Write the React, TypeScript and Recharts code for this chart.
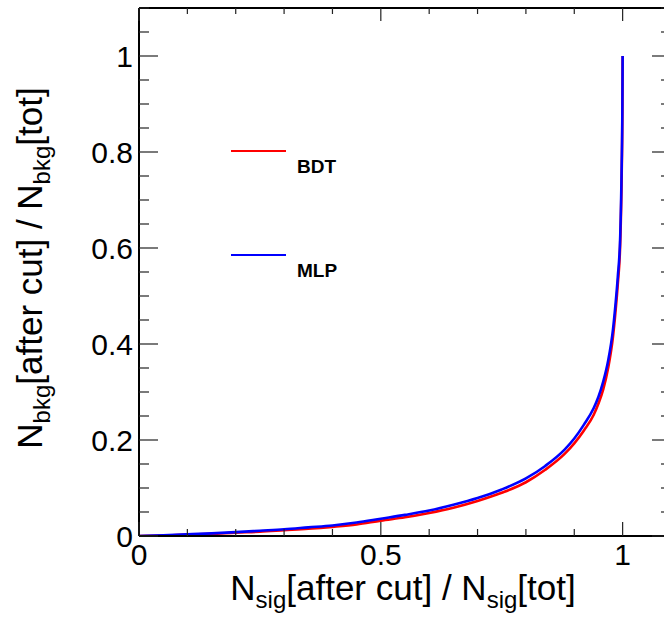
import React from 'react';
import { LineChart, Line, XAxis, YAxis, Customized } from 'recharts';

// Signal efficiency (x) and background efficiency for each method
const sigEff = [0, 0.05, 0.1, 0.15, 0.2, 0.25, 0.3, 0.35, 0.4, 0.45, 0.5, 0.55, 0.6, 0.65, 0.7, 0.75, 0.8, 0.84, 0.88, 0.9, 0.92, 0.94, 0.95, 0.96, 0.97, 0.98, 0.985, 0.99, 0.995, 0.998, 0.9995, 1];
const mlpBkg = [0, 0.0015, 0.0035, 0.0055, 0.008, 0.011, 0.014, 0.018, 0.022, 0.028, 0.036, 0.044, 0.053, 0.065, 0.079, 0.097, 0.12, 0.146, 0.18, 0.203, 0.232, 0.266, 0.29, 0.322, 0.365, 0.43, 0.48, 0.54, 0.625, 0.77, 0.9, 1];
const bdtBkg = [0, 0.001, 0.003, 0.0045, 0.007, 0.009, 0.012, 0.015, 0.019, 0.024, 0.032, 0.039, 0.048, 0.059, 0.073, 0.09, 0.112, 0.138, 0.171, 0.193, 0.22, 0.252, 0.276, 0.306, 0.35, 0.415, 0.465, 0.525, 0.61, 0.75, 0.89, 1];

const xTicks = [0, 0.1, 0.2, 0.3, 0.4, 0.5, 0.6, 0.7, 0.8, 0.9, 1, 1.1];
const xMajorLabels: Record<string, string> = { '0': '0', '0.5': '0.5', '1': '1' };
const yTicks = Array.from({ length: 23 }, (_, i) => Math.round(i * 5) / 100);
const yMajorLabels: Record<string, string> = { '0': '0', '0.2': '0.2', '0.4': '0.4', '0.6': '0.6', '0.8': '0.8', '1': '1' };

const seriesNames = ['BDT', 'MLP'];
const seriesColors = ['#ff0000', '#0000ff'];

const data = sigEff.map((x, i) => ({ x, bdt: bdtBkg[i], mlp: mlpBkg[i] }));

const FONT = '"Liberation Sans", Arial, Helvetica, sans-serif';
const TICK_STROKE = '#222';
const LABEL_SIZE = 30;

const isXMajor = (v: number) => String(v) in xMajorLabels;
const isYMajor = (v: number) => String(v) in yMajorLabels;

const BottomTick = (p: any) => {
  const v = p.payload.value;
  const major = isXMajor(v);
  return (
    <g>
      <line x1={p.x} y1={p.y} x2={p.x} y2={p.y - (major ? 14 : 7)} stroke={TICK_STROKE} strokeWidth={1.2} />
      {major && (
        <text x={p.x} y={p.y + 29} textAnchor="middle" fontSize={LABEL_SIZE} fontFamily={FONT} fill="#000">
          {xMajorLabels[String(v)]}
        </text>
      )}
    </g>
  );
};

const TopTick = (p: any) => {
  const v = p.payload.value;
  const major = isXMajor(v);
  return <line x1={p.x} y1={p.y} x2={p.x} y2={p.y + (major ? 13 : 6)} stroke={TICK_STROKE} strokeWidth={1.2} />;
};

const LeftTick = (p: any) => {
  const v = p.payload.value;
  const major = isYMajor(v);
  return (
    <g>
      <line x1={p.x} y1={p.y} x2={p.x + (major ? 19 : 10)} y2={p.y} stroke={TICK_STROKE} strokeWidth={1.2} />
      {major && (
        <text x={p.x - 6} y={p.y + 11} textAnchor="end" fontSize={LABEL_SIZE} fontFamily={FONT} fill="#000">
          {yMajorLabels[String(v)]}
        </text>
      )}
    </g>
  );
};

const RightTick = (p: any) => {
  const v = p.payload.value;
  const major = isYMajor(v);
  return <line x1={p.x} y1={p.y} x2={p.x - (major ? 19 : 10)} y2={p.y} stroke={TICK_STROKE} strokeWidth={1.2} />;
};

const Decorations = () => (
  <g fontFamily={FONT} fill="#000">
    {/* X axis title */}
    <text x={403} y={600} textAnchor="middle" fontSize={35}>
      N<tspan fontSize={24} dy={8}>sig</tspan>
      <tspan dy={-8}>[after cut] / N</tspan>
      <tspan fontSize={24} dy={8}>sig</tspan>
      <tspan dy={-8}>[tot]</tspan>
    </text>
    {/* Y axis title */}
    <text x={42} y={268} transform="rotate(-90 42 268)" textAnchor="middle" fontSize={35}>
      N<tspan fontSize={24} dy={8}>bkg</tspan>
      <tspan dy={-8}>[after cut] / N</tspan>
      <tspan fontSize={24} dy={8}>bkg</tspan>
      <tspan dy={-8}>[tot]</tspan>
    </text>
    {/* Legend */}
    {seriesNames.map((name, i) => (
      <g key={name}>
        <line x1={231} x2={286} y1={151 + i * 104} y2={151 + i * 104} stroke={seriesColors[i]} strokeWidth={2} />
        <text x={297} y={173 + i * 104} fontSize={19} fontWeight="bold">
          {name}
        </text>
      </g>
    ))}
  </g>
);

export default function App() {
  return (
    <div style={{ position: 'absolute', left: 0, top: 0, width: 664, height: 623, overflow: 'hidden', background: '#fff' }}>
      <LineChart width={680} height={623} data={data} margin={{ top: 0, right: 0, bottom: 0, left: 0 }}>
        <XAxis
          xAxisId="bottom"
          dataKey="x"
          type="number"
          domain={[0, 1.1]}
          ticks={xTicks}
          interval={0}
          orientation="bottom"
          height={87}
          tickSize={0}
          tickMargin={0}
          tickLine={false}
          tick={BottomTick}
          axisLine={{ stroke: '#000', strokeWidth: 2 }}
          allowDataOverflow
        />
        <XAxis
          xAxisId="top"
          dataKey="x"
          type="number"
          domain={[0, 1.1]}
          ticks={xTicks}
          interval={0}
          orientation="top"
          height={8}
          tickSize={0}
          tickMargin={0}
          tickLine={false}
          tick={TopTick}
          axisLine={{ stroke: '#000', strokeWidth: 2 }}
          allowDataOverflow
        />
        <YAxis
          yAxisId="left"
          type="number"
          domain={[0, 1.1]}
          ticks={yTicks}
          interval={0}
          orientation="left"
          width={139}
          tickSize={0}
          tickMargin={0}
          tickLine={false}
          tick={LeftTick}
          axisLine={{ stroke: '#000', strokeWidth: 2 }}
          allowDataOverflow
        />
        <YAxis
          yAxisId="right"
          type="number"
          domain={[0, 1.1]}
          ticks={yTicks}
          interval={0}
          orientation="right"
          width={9}
          tickSize={0}
          tickMargin={0}
          tickLine={false}
          tick={RightTick}
          axisLine={{ stroke: '#000', strokeWidth: 2 }}
          allowDataOverflow
        />
        <Line
          xAxisId="bottom"
          yAxisId="left"
          type="monotone"
          dataKey="bdt"
          stroke={seriesColors[0]}
          strokeWidth={2.6}
          dot={false}
          isAnimationActive={false}
        />
        <Line
          xAxisId="bottom"
          yAxisId="left"
          type="monotone"
          dataKey="mlp"
          stroke={seriesColors[1]}
          strokeWidth={2.6}
          dot={false}
          isAnimationActive={false}
        />
        <Customized component={Decorations} />
      </LineChart>
    </div>
  );
}
